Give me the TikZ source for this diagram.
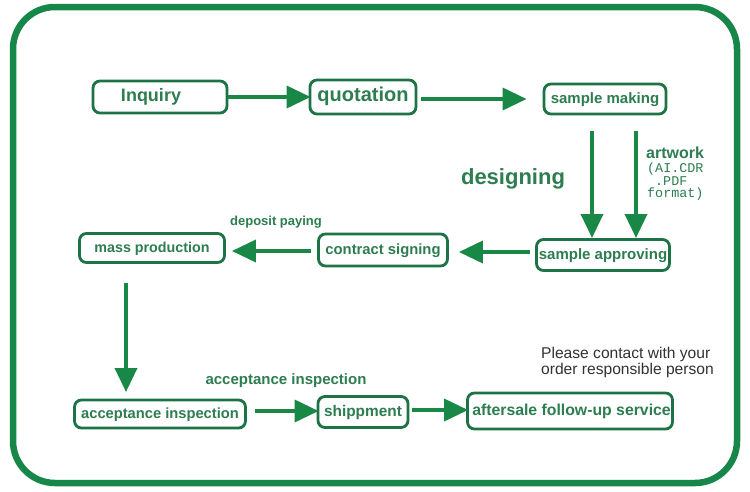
\documentclass[tikz,border=0pt]{standalone}
\usepackage{fontspec}
\setmainfont{Liberation Sans}
\setmonofont{Liberation Mono}
\usetikzlibrary{arrows.meta}
\definecolor{frameg}{RGB}{22,135,72}
\definecolor{boxg}{RGB}{30,115,70}
\definecolor{txtg}{RGB}{45,125,80}
\definecolor{arrg}{RGB}{25,135,70}
\definecolor{graytxt}{RGB}{50,50,50}
\tikzset{
  stepbox/.style={draw=boxg, line width=2.8pt, rounded corners=7pt, text=txtg,
    font=\bfseries\fontsize{15}{17}\selectfont, inner sep=0pt, anchor=center,
    text height=0.9em, text depth=0.1em},
  flow/.style={draw=arrg, line width=3.6pt, -{Triangle[length=24pt,width=22pt]}, shorten >=-2pt},
  lbl/.style={text=txtg, font=\bfseries\fontsize{15}{17}\selectfont, inner sep=0pt}
}
\begin{document}
\begin{tikzpicture}[x=1pt,y=-1pt]
\useasboundingbox (0,0) rectangle (750,491);
\fill[white] (0,0) rectangle (750,491);
\draw[frameg, line width=6.5pt, rounded corners=42pt] (13,7) rectangle (737,483);

\node[stepbox, minimum width=134pt, minimum height=32pt, font=\bfseries\fontsize{18}{20}\selectfont] (inq) at (160,97) {\hspace*{-18pt}Inquiry};
\node[stepbox, minimum width=106pt, minimum height=34pt, font=\bfseries\fontsize{20}{22}\selectfont] (quo) at (363,97) {quotation};
\node[stepbox, minimum width=122pt, minimum height=30pt] (smk) at (605,99) {sample making};
\node[stepbox, minimum width=133pt, minimum height=31pt] (sap) at (603,255) {sample approving};
\node[stepbox, minimum width=129pt, minimum height=32pt, font=\bfseries\fontsize{14.8}{17}\selectfont] (con) at (383,250) {contract signing};
\node[stepbox, minimum width=145pt, minimum height=29pt, font=\bfseries\fontsize{14.3}{17}\selectfont] (mas) at (152,248) {mass production};
\node[stepbox, minimum width=171pt, minimum height=28pt, font=\bfseries\fontsize{14.7}{17}\selectfont] (acc) at (160,414) {acceptance inspection};
\node[stepbox, minimum width=90pt, minimum height=31pt, font=\bfseries\fontsize{15.4}{17}\selectfont] (shp) at (363,412) {shippment};
\node[stepbox, minimum width=205pt, minimum height=36pt, font=\bfseries\fontsize{15.8}{18}\selectfont] (aft) at (570,411) {\hspace*{3pt}aftersale follow-up service};

\coordinate (d1s) at (592,131); \coordinate (d1e) at (592,236);
\coordinate (d2s) at (636,131); \coordinate (d2e) at (636,236);
\coordinate (m1) at (126,283); \coordinate (m2) at (126,390);

\draw[flow] (inq.east) -- (quo.west);
\draw[flow] ([xshift=4pt]quo.east |- 0,99) -- ([xshift=-18pt]smk.west);
\draw[flow] (d1s) -- (d1e);
\draw[flow] (d2s) -- (d2e);
\draw[flow] ([xshift=-5pt]sap.west |- 0,252) -- ([xshift=12pt]con.east |- 0,252);
\draw[flow] ([xshift=-6pt]con.west |- 0,251) -- ([xshift=8pt]mas.east |- 0,251);
\draw[flow] (m1) -- (m2);
\draw[flow] ([xshift=8pt]acc.east |- 0,411) -- (shp.west |- 0,411);
\draw[flow] ([xshift=3pt]shp.east |- 0,410) -- (aft.west |- 0,410);

\node[lbl, font=\bfseries\fontsize{22}{24}\selectfont] (des) at (513,179) {designing};
\node[lbl, font=\bfseries\fontsize{16}{18}\selectfont, anchor=north west] (art) at (646,147) {artwork};
\node[text=txtg, font=\ttfamily\fontsize{13.4}{12.5}\selectfont, align=left, anchor=north west, inner sep=0pt] (fmt) at (647,163) {(AI.CDR\\\hspace*{8pt}.PDF\\format)};
\node[lbl, font=\bfseries\fontsize{13}{15}\selectfont] (dep) at (276,222) {deposit paying};
\node[lbl] (acl) at (286,381) {acceptance inspection};
\node[text=graytxt, font=\fontsize{15.6}{16}\selectfont, align=left, anchor=north west, inner sep=0pt] (note) at (541,347) {Please contact with your\\order responsible person};
\end{tikzpicture}
\end{document}
